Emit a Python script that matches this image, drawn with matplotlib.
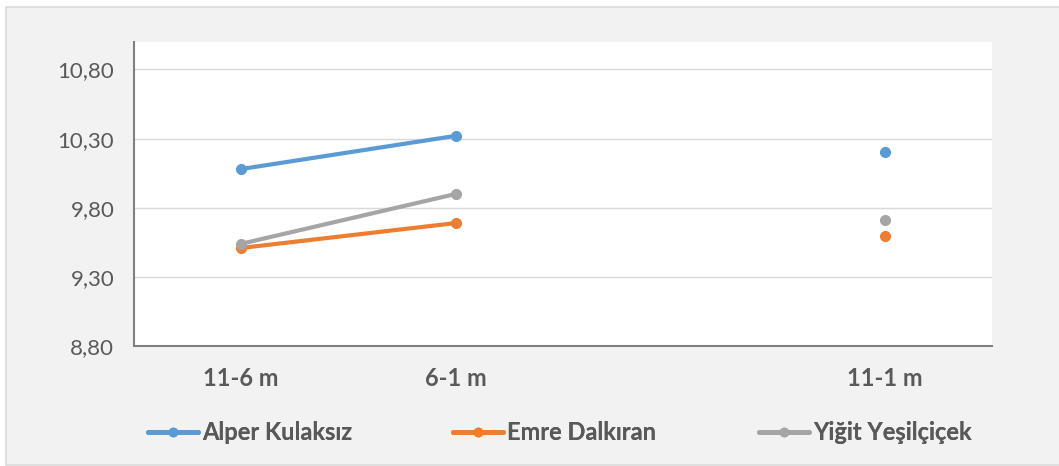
import matplotlib
matplotlib.use("Agg")
import matplotlib.pyplot as plt
from matplotlib.lines import Line2D
from matplotlib.patches import Rectangle
import numpy as np

plt.rcParams['font.family'] = ['Lato', 'DejaVu Sans']

categories = ["11-6 m", "6-1 m", "", "11-1 m"]
series_names = ["Alper Kulaksız", "Emre Dalkıran", "Yiğit Yeşilçiçek"]
alper = [10.08, 10.32, None, 10.20]
emre = [9.51, 9.69, None, 9.60]
yigit = [9.54, 9.90, None, 9.71]
colors = ["#5B9BD5", "#ED7D31", "#A5A5A5"]
yticks = [8.80, 9.30, 9.80, 10.30, 10.80]
ytick_labels = ["8,80", "9,30", "9,80", "10,30", "10,80"]

W, H = 1059, 466
fig = plt.figure(figsize=(W / 100, H / 100), dpi=100)
fig.patch.set_facecolor("white")
fig.patches.append(Rectangle((6 / W, 1 - 465 / H), 1.2, (465 - 7) / H,
                             transform=fig.transFigure, facecolor="#F2F2F2",
                             edgecolor="#D9D9D9", linewidth=1.2, zorder=-10))

ax = fig.add_axes([133.7 / W, 1 - 346.3 / H, (992 - 133.7) / W, (346.3 - 41.7) / H])
ax.set_facecolor("white")

x = np.arange(len(categories))
# 11-6 m and 6-1 m are connected; 11-1 m is a separate point
for vals, c in zip([alper, emre, yigit], colors):
    ax.plot(x[:2], vals[:2], color=c, lw=3.0, marker="o", ms=7, solid_capstyle="round", zorder=3)
    ax.plot([x[3]], [vals[3]], color=c, lw=0, marker="o", ms=7, zorder=3)

ax.set_xlim(-0.5, len(categories) - 0.5)
ax.set_ylim(8.80, 11.0)
ax.set_yticks(yticks)
ax.set_yticklabels(ytick_labels)
ax.set_xticks(x)
ax.set_xticklabels(categories)
ax.tick_params(axis="y", length=0, pad=14, labelsize=16, labelcolor="#595959")
ax.tick_params(axis="x", length=0, pad=15, labelsize=17, labelcolor="#595959")
for lbl in ax.get_xticklabels():
    lbl.set_fontweight("bold")

ax.grid(axis="y", color="#D9D9D9", lw=1.0)
ax.set_axisbelow(True)
for s in ["top", "right"]:
    ax.spines[s].set_visible(False)
for s in ["left", "bottom"]:
    ax.spines[s].set_color("#808080")
    ax.spines[s].set_linewidth(1.5)

leg_x = [148, 453, 759]
for name, c, lx in zip(series_names, colors, leg_x):
    h = Line2D([], [], color=c, lw=3.5, marker="o", ms=6, solid_capstyle="round")
    leg = fig.legend([h], [name], loc="center left", bbox_to_anchor=(lx / W, 1 - 433 / H),
                     frameon=False, borderpad=0, borderaxespad=0, handlelength=2.1,
                     handletextpad=0.2, prop={"size": 17, "weight": "bold"})
    for t in leg.get_texts():
        t.set_color("#595959")
    fig.add_artist(leg)

fig.savefig("out.png", dpi=100, facecolor=fig.get_facecolor())
